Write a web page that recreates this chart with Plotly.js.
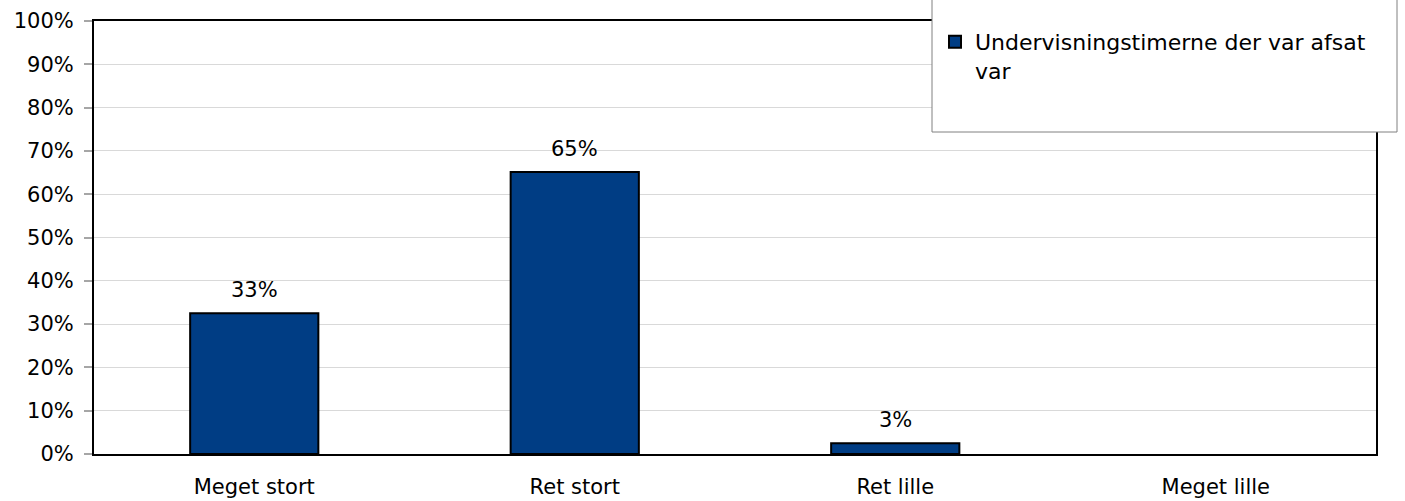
<!DOCTYPE html>
<html>
<head>
<meta charset="utf-8">
<script src="https://cdn.plot.ly/plotly-3.0.1.min.js"></script>
<style>html,body{margin:0;padding:0;background:#fff;}#chart{width:1405px;height:501px;}</style>
</head>
<body>
<div id="chart"></div>
<script>
const categories = ["Meget stort", "Ret stort", "Ret lille", "Meget lille"];
const values = [32.5, 65.1, 2.5, 0];
const seriesName = "Undervisningstimerne der var afsat<br>var";
const yTickVals = [0, 10, 20, 30, 40, 50, 60, 70, 80, 90, 100];
const yTickText = ["0%", "10%", "20%", "30%", "40%", "50%", "60%", "70%", "80%", "90%", "100%"];

const FONT = "'DejaVu Sans', sans-serif";
const FS = 22;

const trace = {
  type: "bar",
  x: categories,
  y: values,
  name: seriesName,
  marker: {color: "#003d84", line: {color: "#000", width: values.map(v => v > 0 ? 2 : 0)}},
  width: 0.4,
  showlegend: true,
  hoverinfo: "skip"
};

const annotations = categories.map((c, i) => ({
  x: c, y: values[i], xref: "x", yref: "y",
  text: values[i] > 0 ? Math.round(values[i]) + "%" : "",
  showarrow: false, yanchor: "bottom", yshift: 9,
  font: {family: FONT, size: FS - 1, color: "#000"}
})).filter(a => a.text !== "");

const layout = {
  width: 1405,
  height: 501,
  margin: {l: 94, r: 29, t: 21, b: 47, autoexpand: false},
  paper_bgcolor: "#fff",
  plot_bgcolor: "#fff",
  font: {family: FONT, size: FS, color: "#000"},
  showlegend: true,
  legend: {
    x: (935 - 94) / 1282, xanchor: "left",
    y: 1.0, yanchor: "top",
    bgcolor: "rgba(0,0,0,0)",
    borderwidth: 0,
    valign: "top",
    itemwidth: 30,
    tracegroupgap: 0,
    font: {family: FONT, size: FS, color: "#000"}
  },
  annotations: annotations,
  xaxis: {
    type: "category",
    automargin: false,
    showline: true, linecolor: "#000", linewidth: 2, mirror: true,
    ticks: "", showgrid: false,
    ticklabelstandoff: 13,
    tickfont: {family: FONT, size: FS - 1, color: "#000"},
    fixedrange: true
  },
  yaxis: {
    range: [0, 100],
    automargin: false,
    tickvals: yTickVals,
    ticktext: yTickText,
    showline: true, linecolor: "#000", linewidth: 2, mirror: true,
    ticks: "outside", ticklen: 8, tickcolor: "#a6a6a6", tickwidth: 2,
    showgrid: true, gridcolor: "#d9d9d9", gridwidth: 1,
    zeroline: false,
    ticklabelstandoff: 6,
    tickfont: {family: FONT, size: FS - 1, color: "#000"},
    fixedrange: true
  },
  shapes: [{
    type: "rect", xref: "paper", yref: "paper",
    x0: (932 - 94) / 1282, x1: (1397 - 94) / 1282,
    y0: (454 - 132) / 433, y1: (454 + 10) / 433,
    line: {color: "#808080", width: 1},
    fillcolor: "#fff",
    layer: "above"
  }]
};

Plotly.newPlot("chart", [trace], layout, {staticPlot: true, displayModeBar: false});
</script>
</body>
</html>
